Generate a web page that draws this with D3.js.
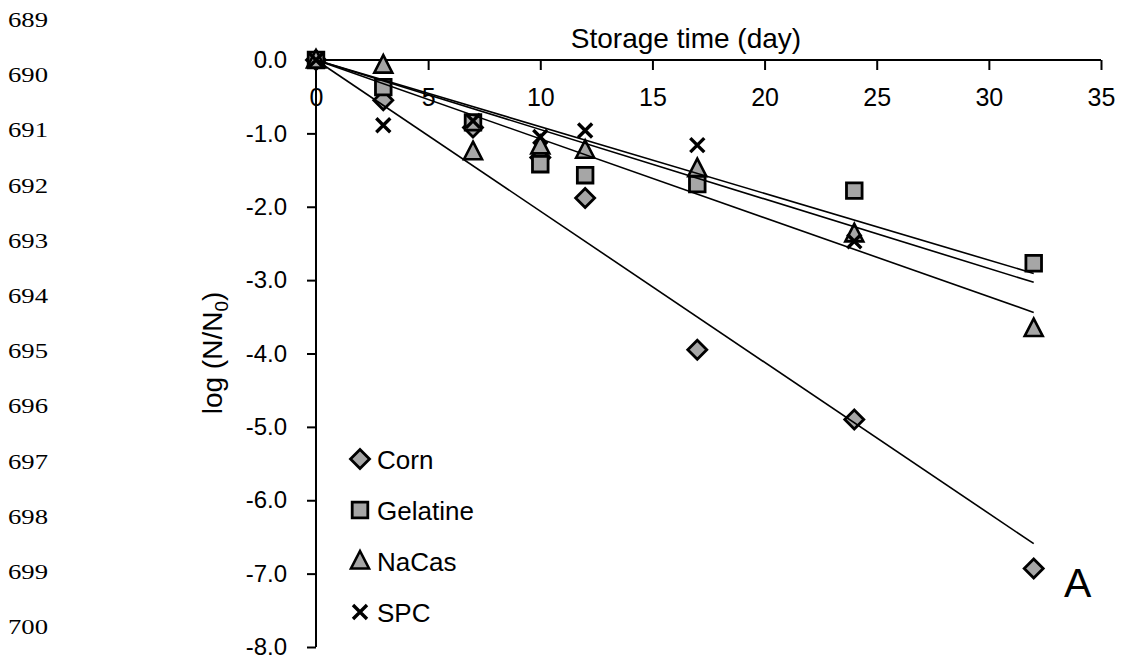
<!DOCTYPE html>
<html>
<head>
<meta charset="utf-8">
<script src="https://cdn.jsdelivr.net/npm/d3@7"></script>
<style>
	body { margin: 0; background: #fff; }
	svg text { font-family: "Liberation Sans", Arial, sans-serif; fill: #000; }
	.lineno { font-family: "Liberation Serif", "Times New Roman", serif; font-size: 21px; }
	.axis path, .axis line { stroke: #000; stroke-width: 2px; }
	.axis text { font-family: "Liberation Sans", Arial, sans-serif; }
	.axis--x text { font-size: 25px; }
	.axis--y text { font-size: 24px; }
</style>
</head>
<body>
<svg width="1130" height="664"></svg>
<script>
// storage days
var days = [0, 3, 7, 10, 12, 17, 24, 32];
// log (N/N0) per coating
var corn = [0, -0.55, -0.92, -1.33, -1.88, -3.95, -4.90, -6.93];
var gelatine = [0, -0.37, -0.85, -1.42, -1.57, -1.69, -1.78, -2.77];
var nacas = [0, -0.07, -1.25, -1.17, -1.23, -1.48, -2.37, -3.66];
var spc = [0, -0.89, -0.83, -1.05, -0.96, -1.16, -2.47, null];
// trend line slopes (through origin), drawn to day 32
var seriesNames = ["Corn", "Gelatine", "NaCas", "SPC"];
var trendSlopes = [-0.206, -0.0909, -0.1075, -0.0947];
var trendEnd = 32;
var xTicks = [0, 5, 10, 15, 20, 25, 30, 35];
var yTicks = [0, -1, -2, -3, -4, -5, -6, -7, -8];
var lineNumbers = [689, 690, 691, 692, 693, 694, 695, 696, 697, 698, 699, 700];

var allValues = [corn, gelatine, nacas, spc];
var shapes = ["diamond", "square", "triangle", "cross"];

var svg = d3.select("svg");

var x = d3.scaleLinear().domain([0, 35]).range([316, 1101]),
	y = d3.scaleLinear().domain([0, -8]).range([60, 647]);

// номера строк слева (растянуты по горизонтали, как в оригинале)
svg.append("g").selectAll("text")
	.data(lineNumbers)
	.enter().append("text")
	.attr("class", "lineno")
	.attr("transform", function(d, i) { return "translate(8," + (27 + i * 55.2) + ") scale(1.27,1)"; })
	.text(function(d) { return d; });

// оси
var xAxis = d3.axisBottom(x).tickValues(xTicks).tickSize(10).tickPadding(18).tickFormat(d3.format("d"));
var yAxis = d3.axisLeft(y).tickValues(yTicks).tickSize(9).tickPadding(20)
	.tickFormat(function(d) { return d3.format(".1f")(d).replace("−", "-"); });

svg.append("g")
	.attr("class", "axis axis--x")
	.attr("transform", "translate(0," + y(0) + ")")
	.call(xAxis)
	.call(function(g) { g.select(".domain").attr("d", "M" + x(0) + ",0H" + x(35)); })
	.attr("font-size", null);

svg.append("g")
	.attr("class", "axis axis--y")
	.attr("transform", "translate(" + x(0) + ",0)")
	.call(yAxis)
	.call(function(g) { g.select(".domain").attr("d", "M0," + y(0) + "V" + y(-8)); })
	.attr("font-size", null);

// подписи осей
svg.append("text")
	.attr("x", 686)
	.attr("y", 48)
	.attr("text-anchor", "middle")
	.style("font-size", "28px")
	.text("Storage time (day)");

var yl = svg.append("text")
	.attr("transform", "translate(222,353) rotate(-90)")
	.attr("text-anchor", "middle")
	.style("font-size", "28px");
yl.append("tspan").text("log (N/N");
yl.append("tspan").attr("dy", 6).style("font-size", "19px").text("0");
yl.append("tspan").attr("dy", -6).text(")");

// маркеры
function marker(sel, shape) {
	if (shape === "diamond")
		sel.append("path").attr("d", "M0,-9.5L9.5,0L0,9.5L-9.5,0Z")
			.attr("fill", "#a6a6a6").attr("stroke", "#000").attr("stroke-width", 2.8);
	else if (shape === "square")
		sel.append("path").attr("d", "M-7.8,-7.8H7.8V7.8H-7.8Z")
			.attr("fill", "#a6a6a6").attr("stroke", "#000").attr("stroke-width", 2.8);
	else if (shape === "triangle")
		sel.append("path").attr("d", "M0,-10L9,7.5H-9Z")
			.attr("fill", "#a6a6a6").attr("stroke", "#000").attr("stroke-width", 2.6);
	else
		sel.append("path").attr("d", "M-7,-7L7,7M-7,7L7,-7")
			.attr("fill", "none").attr("stroke", "#000").attr("stroke-width", 3.4);
}

allValues.forEach(function(vals, si) {
	var pts = days.map(function(d, i) { return {d: d, v: vals[i]}; })
		.filter(function(p) { return p.v !== null; });
	svg.append("g").selectAll("g")
		.data(pts)
		.enter().append("g")
		.attr("transform", function(p) { return "translate(" + x(p.d) + "," + y(p.v) + ")"; })
		.each(function() { marker(d3.select(this), shapes[si]); });
});

// линии тренда
var line = d3.line()
	.x(function(d) { return x(d[0]); })
	.y(function(d) { return y(d[1]); });

svg.append("g").selectAll("path")
	.data(trendSlopes)
	.enter().append("path")
	.attr("d", function(k) { return line([[0, 0], [trendEnd, k * trendEnd]]); })
	.attr("fill", "none")
	.attr("stroke", "#000")
	.attr("stroke-width", 1.6);

// легенда
var legend = svg.append("g").selectAll("g")
	.data(seriesNames)
	.enter().append("g")
	.attr("transform", function(d, i) { return "translate(360," + (459 + i * 51) + ")"; });
legend.each(function(d, i) { marker(d3.select(this), shapes[i]); });
legend.append("text")
	.attr("x", 17)
	.attr("y", 9.5)
	.style("font-size", "26px")
	.text(function(d) { return d; });

svg.append("text")
	.attr("x", 1064)
	.attr("y", 597)
	.style("font-size", "41px")
	.text("A");
</script>
</body>
</html>
